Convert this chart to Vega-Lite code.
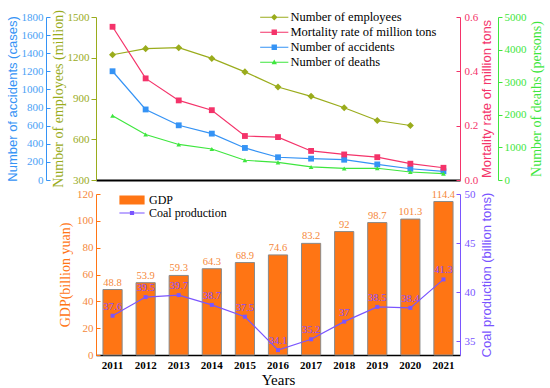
{
  "$schema": "https://vega.github.io/schema/vega-lite/v6.json",
  "padding": {"left": 6, "top": 9, "right": 4, "bottom": 0},
  "spacing": 0,
  "config": {
    "font": "Liberation Serif",
    "view": {"stroke": null},
    "axis": {"grid": false, "labelFontSize": 11, "titleFontWeight": "normal", "labelFont": "Liberation Serif"},
    "axisY": {"labelFont": "Liberation Serif"},
    "axisX": {"labelFont": "Liberation Serif"}
  },
  "resolve": {"scale": {"color": "independent", "shape": "independent"}, "legend": {"color": "independent", "shape": "independent"}},
  "vconcat": [
    {
      "width": 364,
      "height": 163,
      "data": {"values": [
        {"year": 2011, "series": "Number of employees", "value": 1222},
        {"year": 2012, "series": "Number of employees", "value": 1267},
        {"year": 2013, "series": "Number of employees", "value": 1274},
        {"year": 2014, "series": "Number of employees", "value": 1195},
        {"year": 2015, "series": "Number of employees", "value": 1096},
        {"year": 2016, "series": "Number of employees", "value": 985},
        {"year": 2017, "series": "Number of employees", "value": 916},
        {"year": 2018, "series": "Number of employees", "value": 832},
        {"year": 2019, "series": "Number of employees", "value": 738},
        {"year": 2020, "series": "Number of employees", "value": 701},
        {"year": 2011, "series": "Mortality rate of million tons", "value": 0.564},
        {"year": 2012, "series": "Mortality rate of million tons", "value": 0.374},
        {"year": 2013, "series": "Mortality rate of million tons", "value": 0.293},
        {"year": 2014, "series": "Mortality rate of million tons", "value": 0.257},
        {"year": 2015, "series": "Mortality rate of million tons", "value": 0.162},
        {"year": 2016, "series": "Mortality rate of million tons", "value": 0.158},
        {"year": 2017, "series": "Mortality rate of million tons", "value": 0.107},
        {"year": 2018, "series": "Mortality rate of million tons", "value": 0.094},
        {"year": 2019, "series": "Mortality rate of million tons", "value": 0.084},
        {"year": 2020, "series": "Mortality rate of million tons", "value": 0.06},
        {"year": 2021, "series": "Mortality rate of million tons", "value": 0.045},
        {"year": 2011, "series": "Number of accidents", "value": 1201},
        {"year": 2012, "series": "Number of accidents", "value": 779},
        {"year": 2013, "series": "Number of accidents", "value": 604},
        {"year": 2014, "series": "Number of accidents", "value": 512},
        {"year": 2015, "series": "Number of accidents", "value": 354},
        {"year": 2016, "series": "Number of accidents", "value": 251},
        {"year": 2017, "series": "Number of accidents", "value": 236},
        {"year": 2018, "series": "Number of accidents", "value": 224},
        {"year": 2019, "series": "Number of accidents", "value": 172},
        {"year": 2020, "series": "Number of accidents", "value": 124},
        {"year": 2021, "series": "Number of accidents", "value": 96},
        {"year": 2011, "series": "Number of deaths", "value": 1973},
        {"year": 2012, "series": "Number of deaths", "value": 1395},
        {"year": 2013, "series": "Number of deaths", "value": 1090},
        {"year": 2014, "series": "Number of deaths", "value": 950},
        {"year": 2015, "series": "Number of deaths", "value": 605},
        {"year": 2016, "series": "Number of deaths", "value": 540},
        {"year": 2017, "series": "Number of deaths", "value": 400},
        {"year": 2018, "series": "Number of deaths", "value": 355},
        {"year": 2019, "series": "Number of deaths", "value": 360},
        {"year": 2020, "series": "Number of deaths", "value": 245},
        {"year": 2021, "series": "Number of deaths", "value": 195}
      ]},
      "encoding": {
        "x": {"field": "year", "type": "ordinal", "scale": {"padding": 0.5},
          "axis": {"labels": false, "ticks": false, "title": null, "domainColor": "#000000", "domainWidth": 2}}
      },
      "layer": [
        {
          "transform": [{"filter": "datum.series === 'Number of employees'"}],
          "encoding": {"y": {"field": "value", "type": "quantitative",
            "scale": {"domain": [300, 1500], "nice": false, "zero": false},
            "axis": {"orient": "left", "offset": 0, "values": [300, 600, 900, 1200, 1500], "format": "d", "labelFont": "Liberation Serif",
              "domainColor": "#9aac1c", "tickColor": "#9aac1c", "labelColor": "#9aac1c", "titleColor": "#9aac1c",
              "tickSize": 5, "labelPadding": 2, "title": "Number of employees (million)",
              "titleFont": "Liberation Serif", "titleFontSize": 14, "titlePadding": 2}}},
          "layer": [
            {"mark": {"type": "line", "color": "#9aac1c", "strokeWidth": 1.2}},
            {"mark": {"type": "point", "filled": true, "shape": "diamond", "size": 50, "opacity": 1, "color": "#9aac1c"}}
          ]
        },
        {
          "transform": [{"filter": "datum.series === 'Number of accidents'"}],
          "encoding": {"y": {"field": "value", "type": "quantitative",
            "scale": {"domain": [0, 1800], "nice": false},
            "axis": {"orient": "left", "offset": 50, "values": [0, 200, 400, 600, 800, 1000, 1200, 1400, 1600, 1800], "format": "d", "labelFont": "Liberation Serif",
              "domainColor": "#3593f5", "tickColor": "#3593f5", "labelColor": "#4a9ff5", "titleColor": "#3593f5",
              "tickSize": -4, "labelPadding": 7, "title": "Number of accidents (cases)",
              "titleFont": "Liberation Sans", "titleFontSize": 13, "titlePadding": 2}}},
          "layer": [
            {"mark": {"type": "line", "color": "#3593f5", "strokeWidth": 1.2}},
            {"mark": {"type": "point", "filled": true, "shape": "square", "size": 34, "opacity": 1, "color": "#3593f5"}}
          ]
        },
        {
          "transform": [{"filter": "datum.series === 'Mortality rate of million tons'"}],
          "encoding": {"y": {"field": "value", "type": "quantitative",
            "scale": {"domain": [0, 0.6], "nice": false},
            "axis": {"orient": "right", "offset": 0, "values": [0, 0.2, 0.4, 0.6], "format": ".1f", "labelFont": "Liberation Serif",
              "domainColor": "#f4336a", "tickColor": "#f4336a", "labelColor": "#f4336a", "titleColor": "#f4336a",
              "tickSize": -4, "labelPadding": 8, "title": "Mortality rate of million tons",
              "titleFont": "Liberation Sans", "titleFontSize": 13, "titlePadding": 3, "titleAngle": 270, "titleBaseline": "top"}}},
          "layer": [
            {"mark": {"type": "line", "color": "#f4336a", "strokeWidth": 1.2}},
            {"mark": {"type": "point", "filled": true, "shape": "square", "size": 34, "opacity": 1, "color": "#f4336a"}}
          ]
        },
        {
          "transform": [{"filter": "datum.series === 'Number of deaths'"}],
          "encoding": {"y": {"field": "value", "type": "quantitative",
            "scale": {"domain": [0, 5000], "nice": false},
            "axis": {"orient": "right", "offset": 38, "values": [0, 1000, 2000, 3000, 4000, 5000], "format": "d", "labelFont": "Liberation Serif",
              "domainColor": "#3ee63e", "tickColor": "#3ee63e", "labelColor": "#3ee63e", "titleColor": "#3ee63e",
              "tickSize": 4, "labelPadding": 2, "title": "Number of deaths (persons)",
              "titleFont": "Liberation Serif", "titleFontSize": 14, "titlePadding": 3, "titleAngle": 270, "titleBaseline": "top"}}},
          "layer": [
            {"mark": {"type": "line", "color": "#3ee63e", "strokeWidth": 1.2}},
            {"mark": {"type": "point", "filled": true, "shape": "triangle-up", "size": 22, "opacity": 1, "color": "#3ee63e"}}
          ]
        },
        {
          "transform": [{"filter": "datum.year === 2011"}],
          "mark": {"type": "point", "filled": true, "opacity": 0},
          "encoding": {
            "color": {"field": "series", "type": "nominal",
              "scale": {"domain": ["Number of employees", "Mortality rate of million tons", "Number of accidents", "Number of deaths"], "range": ["#9aac1c", "#f4336a", "#3593f5", "#3ee63e"]},
              "legend": {"orient": "none", "legendX": 172, "legendY": -6, "title": null, "symbolSize": 144, "labelOffset": 10, "rowPadding": 2,
                "labelFont": "Liberation Serif", "labelFontSize": 12.5, "labelColor": "#000000", "symbolStrokeWidth": 0, "symbolOpacity": 1}},
            "shape": {"field": "series", "type": "nominal",
              "scale": {"domain": ["Number of employees", "Mortality rate of million tons", "Number of accidents", "Number of deaths"],
                "range": ["M-2.35,-0.09H2.35V0.09H-2.35Z M0,-0.55L0.55,0L0,0.55L-0.55,0Z", "M-2.35,-0.09H2.35V0.09H-2.35Z M-0.45,-0.45H0.45V0.45H-0.45Z", "M-2.35,-0.09H2.35V0.09H-2.35Z M-0.45,-0.45H0.45V0.45H-0.45Z", "M-2.35,-0.09H2.35V0.09H-2.35Z M0,-0.45L0.45,0.35L-0.45,0.35Z"]},
              "legend": {"orient": "none", "legendX": 172, "legendY": -6, "title": null, "symbolSize": 144, "labelOffset": 10, "rowPadding": 2,
                "labelFont": "Liberation Serif", "labelFontSize": 12.5, "labelColor": "#000000", "symbolStrokeWidth": 0, "symbolOpacity": 1}}
          }
        }
      ],
      "resolve": {"scale": {"y": "independent"}}
    },
    {
      "width": 364,
      "height": 161,
      "data": {"values": [
        {"year": 2011, "gdp": 48.8, "coal": 37.6},
        {"year": 2012, "gdp": 53.9, "coal": 39.5},
        {"year": 2013, "gdp": 59.3, "coal": 39.7},
        {"year": 2014, "gdp": 64.3, "coal": 38.7},
        {"year": 2015, "gdp": 68.9, "coal": 37.5},
        {"year": 2016, "gdp": 74.6, "coal": 34.1},
        {"year": 2017, "gdp": 83.2, "coal": 35.2},
        {"year": 2018, "gdp": 92, "coal": 37},
        {"year": 2019, "gdp": 98.7, "coal": 38.5},
        {"year": 2020, "gdp": 101.3, "coal": 38.4},
        {"year": 2021, "gdp": 114.4, "coal": 41.3}
      ]},
      "encoding": {
        "x": {"field": "year", "type": "ordinal", "scale": {"paddingInner": 0.42, "paddingOuter": 0.21},
          "axis": {"labelAngle": 0, "labelFontWeight": "bold", "labelFontSize": 11, "labelColor": "#000000", "labelFont": "Liberation Serif",
            "tickColor": "#000000", "tickSize": -7, "tickWidth": 1.2, "labelPadding": 11, "domainColor": "#000000", "domainWidth": 1.5,
            "title": "Years", "titleFont": "Liberation Serif", "titleFontSize": 15, "titleColor": "#000000", "titlePadding": 2}}
      },
      "layer": [
        {
          "encoding": {"y": {"field": "gdp", "type": "quantitative",
            "scale": {"domain": [0, 120], "nice": false},
            "axis": {"orient": "left", "values": [0, 20, 40, 60, 80, 100, 120], "labelFont": "Liberation Serif",
              "domainColor": "#ff7514", "tickColor": "#ff7514", "labelColor": "#f5883a", "titleColor": "#ff7514",
              "tickSize": -4, "labelPadding": 7, "title": "GDP(billion yuan)",
              "titleFont": "Liberation Serif", "titleFontSize": 14, "titlePadding": 4}}},
          "layer": [
            {"mark": {"type": "bar", "color": "#ff7514", "stroke": "#8a8a8a", "strokeWidth": 1}},
            {"mark": {"type": "text", "baseline": "bottom", "dy": -2, "color": "#f5883a", "fontSize": 10.5, "font": "Liberation Serif"},
              "encoding": {"text": {"field": "gdp", "type": "quantitative"}}}
          ]
        },
        {
          "encoding": {"y": {"field": "coal", "type": "quantitative",
            "scale": {"domain": [33.6, 50], "nice": false, "zero": false},
            "axis": {"orient": "right", "values": [35, 40, 45, 50], "labelFont": "Liberation Serif",
              "domainColor": "#7a55ff", "tickColor": "#7a55ff", "labelColor": "#7a55ff", "titleColor": "#7a55ff",
              "tickSize": -4, "labelPadding": 8, "title": "Coal production (billion tons)",
              "titleFont": "Liberation Sans", "titleFontSize": 13, "titlePadding": 5, "titleAngle": 270, "titleBaseline": "top"}}},
          "layer": [
            {"mark": {"type": "line", "color": "#7a55ff", "strokeWidth": 1.2}},
            {"mark": {"type": "point", "filled": true, "shape": "square", "size": 16, "opacity": 1, "color": "#7a55ff"}},
            {"mark": {"type": "text", "baseline": "middle", "dy": -9, "color": "#8a4dff", "fontSize": 10.5, "font": "Liberation Serif"},
              "encoding": {"text": {"field": "coal", "type": "quantitative"}}}
          ]
        },
        {
          "transform": [{"filter": "datum.year === 2011"}],
          "mark": {"type": "point", "filled": true, "opacity": 0},
          "encoding": {
            "color": {"datum": "GDP", "type": "nominal",
              "scale": {"domain": ["GDP", "Coal production"], "range": ["#ff7514", "#7a55ff"]},
              "legend": {"orient": "none", "legendX": 30, "legendY": 0, "title": null, "symbolSize": 144, "labelOffset": 11, "rowPadding": 1,
                "labelFont": "Liberation Serif", "labelFontSize": 12, "labelColor": "#000000", "symbolStrokeWidth": 0, "symbolOpacity": 1}},
            "shape": {"datum": "GDP", "type": "nominal",
              "scale": {"domain": ["GDP", "Coal production"], "range": ["M-2.1,-0.75H2.1V0.75H-2.1Z", "M-2.1,-0.08H2.1V0.08H-2.1Z M-0.35,-0.35H0.35V0.35H-0.35Z"]},
              "legend": {"orient": "none", "legendX": 30, "legendY": 0, "title": null, "symbolSize": 144, "labelOffset": 11, "rowPadding": 1,
                "labelFont": "Liberation Serif", "labelFontSize": 12, "labelColor": "#000000", "symbolStrokeWidth": 0, "symbolOpacity": 1}}
          }
        }
      ],
      "resolve": {"scale": {"y": "independent"}}
    }
  ]
}
